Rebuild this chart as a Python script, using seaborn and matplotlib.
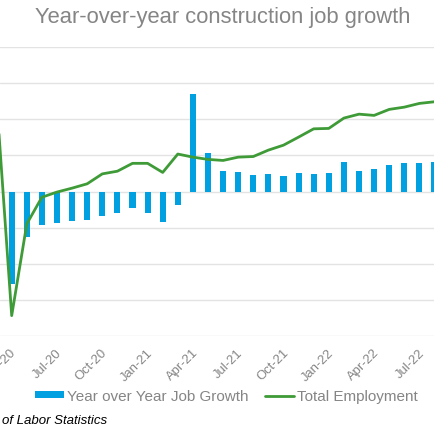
import matplotlib
matplotlib.use("Agg")
import matplotlib.pyplot as plt
from matplotlib.patches import Patch
from matplotlib.transforms import ScaledTranslation
import seaborn as sns
import pandas as pd

# monthly, Mar-20 .. Aug-22
months = pd.date_range("2020-03-01", "2022-08-01", freq="MS")
yoy_growth = [0.6, -12.8, -6.3, -4.6, -4.35, -4.0, -3.9, -3.3, -3.0, -2.2,
              -2.9, -4.2, -1.85, 13.5, 5.3, 2.9, 2.7, 2.35, 2.5, 2.2,
              2.6, 2.5, 2.6, 4.05, 2.9, 3.1, 3.7, 3.9, 4.0, 4.05]
total_employment = [7545, 6500, 6944, 7073, 7098, 7117, 7138, 7186, 7199, 7237,
                    7237, 7193, 7282, 7267, 7256, 7251, 7267, 7270, 7301, 7325,
                    7364, 7404, 7406, 7456, 7475, 7469, 7498, 7509, 7527, 7535]

df = pd.DataFrame({
    "idx": range(len(months)),
    "yoy": yoy_growth,
    "emp": total_employment,
})

sns.set_theme(style="white")
plt.rcParams["font.family"] = ["Liberation Sans", "DejaVu Sans"]

blue = "#00A0E1"
green = "#3F9B37"
grey = "#858585"

fig = plt.figure(figsize=(4.35, 4.35), dpi=100)
ax = fig.add_axes([0, 1 - 337.3 / 435, 1, (337.3 - 48) / 435])

sns.barplot(data=df, x="idx", y="yoy", color=blue, saturation=1, native_scale=True,
            width=0.4, errorbar=None, linewidth=0, ax=ax, legend=False)
ax.set_ylim(-20, 20)
ax.set_yticks(range(-20, 25, 5))
ax.yaxis.grid(True, color="#e3e3e3", lw=1)
ax.set_axisbelow(True)
ax.tick_params(axis="y", left=False, labelleft=False)
for s in ax.spines.values():
    s.set_visible(False)

ax2 = ax.twinx()
sns.lineplot(data=df, x="idx", y="emp", color=green, lw=2.0, ax=ax2, legend=False)
ax2.set_ylim(6400, 7800)
ax2.set_yticks([])
ax2.set_ylabel("")
for s in ax2.spines.values():
    s.set_visible(False)

tick_pos = list(range(1, len(months), 3)) + [31]
tick_lab = [m.strftime("%b-%y") for m in
            pd.date_range("2020-04-01", periods=len(tick_pos), freq="3MS")]
ax.set_xticks(tick_pos)
ax.set_xticklabels(tick_lab, rotation=45, ha="right", va="center",
                   rotation_mode="anchor", color=grey, fontsize=9.4)
ax.tick_params(axis="x", bottom=False, pad=4)
shift = ScaledTranslation(3 / 100, 0, fig.dpi_scale_trans)
for lab in ax.get_xticklabels():
    lab.set_transform(lab.get_transform() + shift)
ax.set_xlim(3.4 / 15.1, 438.4 / 15.1)
ax.set_xlabel("")
ax.set_ylabel("")

handles = [Patch(color=blue, lw=0), ax2.lines[0]]
labels = ["Year over Year Job Growth", "Total Employment"]
fig.legend(handles, labels, loc="center", ncol=2,
           bbox_to_anchor=(226.5 / 435, 1 - 397 / 435), frameon=False,
           fontsize=11, labelcolor=grey, handlelength=1.9, handleheight=0.33,
           handletextpad=0.2, columnspacing=1.1)

fig.text(223 / 435, 1 - 18 / 435, "Year-over-year construction job growth",
         ha="center", va="center", fontsize=15.8, color=grey)
fig.text(107 / 435, 1 - 421 / 435, "Source: U.S. Bureau of Labor Statistics",
         ha="right", va="center", fontsize=9.5, style="italic", color="black")

fig.savefig("out.png", dpi=100)
